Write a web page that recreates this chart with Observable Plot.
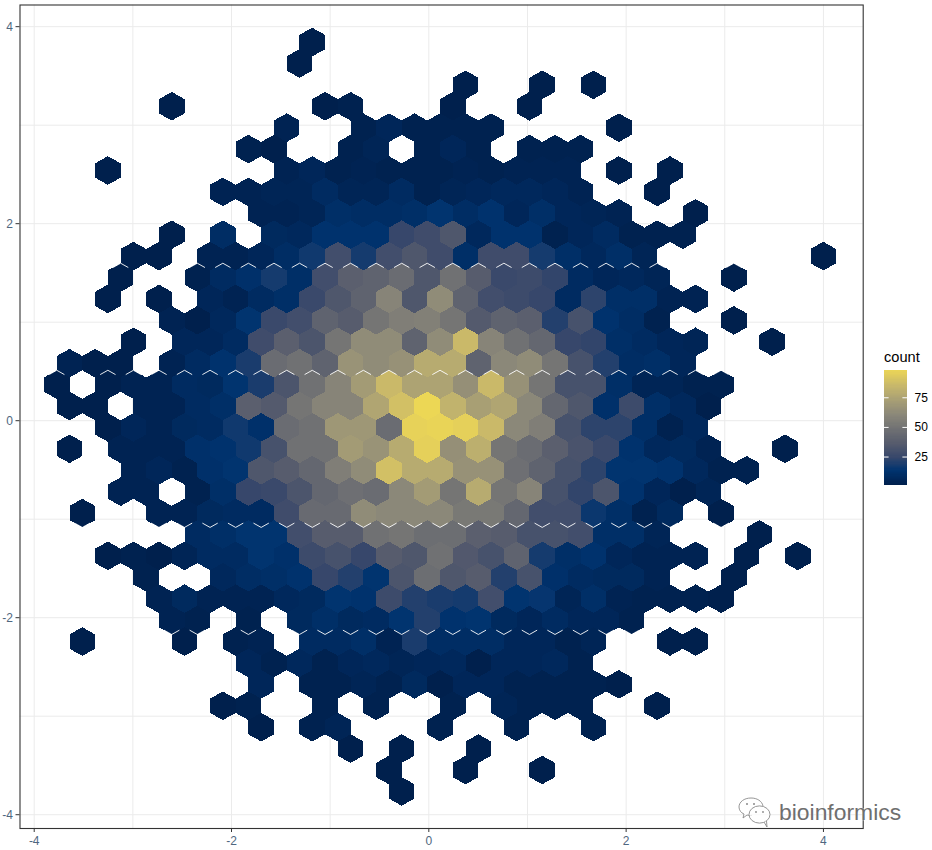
<!DOCTYPE html>
<html>
<head>
<meta charset="utf-8">
<script src="https://cdn.jsdelivr.net/npm/d3@7"></script>
<script src="https://cdn.jsdelivr.net/npm/@observablehq/plot@0.6"></script>
<style>
html,body{margin:0;padding:0;background:#fff;font-family:"Liberation Sans",Arial,sans-serif;}
#stage{position:relative;width:932px;height:850px;overflow:hidden;}
#stage svg{display:block;background:transparent;}
#legend{position:absolute;left:884px;top:370px;}
#legendTitle{position:absolute;left:884px;top:349px;font-size:14.6px;line-height:17px;color:#000;}
#mark{position:absolute;left:737px;top:795px;width:170px;height:36px;}
</style>
</head>
<body>
<div id="stage">
  <div id="chart"></div>
  <div id="legendTitle">count</div>
  <div id="legend"></div>
  <svg id="mark" viewBox="0 0 170 36" width="170" height="36">
    <g fill="rgba(255,255,255,.75)" stroke="#8a8a8a" stroke-width="0.9">
      <path d="M14 3c-7 0-12 4-12 9 0 3 2 6 5 7l-1 4 4-3c2 .5 3 .5 5 .3"/>
      <path d="M14 3c6 0 11 3 12 8"/>
      <ellipse cx="22.5" cy="19.5" rx="10.5" ry="8.6"/>
      <path d="M27 27l3 5-.5-6"/>
    </g>
    <g fill="#8a8a8a"><circle cx="10" cy="9" r="1"/><circle cx="17" cy="9" r="1"/><circle cx="19" cy="17" r=".9"/><circle cx="26" cy="17" r=".9"/></g>
    <text x="42" y="24.5" font-size="22.9" fill="#6f6f6f" stroke="rgba(255,255,255,.85)" stroke-width="0.6" paint-order="stroke" font-family="Liberation Sans">bioinformics</text>
  </svg>
</div>
<script>
// Axis ticks
const xMajor = [-4, -2, 0, 2, 4];
const xMinor = [-3, -1, 1, 3];
const yMajor = [-4, -2, 0, 2, 4];
const yMinor = [-3, -1, 1, 3];
const legendTicks = [25, 50, 75];

// Hexagon grid of the binning
const hexDx = 0.259;
const hexDy = 0.21736;
const hexOriginX = -0.016;
const hexTopY = 3.844;

// Rows whose upper / lower hexagon edges show as thin white seams in the picture
const seamAbove = [11, 16];
const seamBelow = [22, 27];

// Palette
const cividisStops = ["#00204D","#00336F","#39486B","#575C6D","#707173","#8A8779","#A69D75","#C4B56C","#E4CF5B","#FFEA46"];

// First occupied column of each row, then the count read for each column (0 = empty bin)
const rowStart = [-5,-5,1,-10,-6,-7,-13,-8,-7,-10,-12,-12,-13,-10,-12,-14,-15,-14,-13,-14,-12,-12,-14,-9,-13,-11,-11,-10,-14,-7,-7,-8,-7,-3,-2,-1];
const rowCounts = [
[1],
[1],
[1,0,0,1,0,1],
[1,0,0,0,0,0,1,2,0,0,0,1,0,0,1],
[3,0,0,2,5,2,2,2,2,0,0,0,0,1],
[2,1,0,0,2,4,0,2,5,2,0,2,2,2],
[1,0,0,0,0,0,0,3,5,2,3,2,2,2,3,2,3,3,3,0,1,0,1],
[3,3,4,4,8,4,4,8,2,4,5,6,6,5,3,0,0,1],
[3,3,4,10,9,9,10,13,9,12,5,10,5,4,3,0,0,1],
[1,0,9,0,7,6,12,12,12,24,27,33,6,12,12,2,5,8,2,2,2],
[1,1,0,3,3,5,9,16,28,17,28,33,27,10,27,27,17,10,6,10,4,0,0,0,0,0,0,1],
[1,0,0,2,8,11,17,10,28,38,40,45,33,48,36,25,26,23,8,5,6,4,0,0,1],
[1,0,1,0,5,3,8,10,25,33,40,58,33,62,40,28,26,24,8,22,10,10,3,3],
[3,1,6,13,25,28,40,36,50,55,56,50,35,40,38,20,30,12,9,2,0,0,1],
[1,0,5,5,8,27,38,32,50,62,62,40,62,85,58,48,42,24,23,10,8,5,4,0,0,1],
[3,1,1,0,3,8,12,18,45,48,40,66,62,65,78,78,40,60,62,50,30,20,9,10,5],
[1,0,1,3,3,8,7,13,18,32,48,58,70,85,74,74,64,85,65,50,30,30,10,4,4,2,2],
[1,1,0,3,3,8,10,38,35,50,58,58,75,88,98,82,72,75,60,42,33,11,26,10,6,1],
[1,5,3,7,8,16,11,45,48,68,68,45,96,97,95,85,60,55,30,22,22,10,2,6],
[1,0,3,3,3,11,12,16,30,48,48,70,66,78,95,64,80,50,45,38,31,25,12,6,7,3,0,0,1],
[3,5,2,11,13,33,36,42,55,62,88,78,78,65,65,47,40,30,22,13,13,12,6,2,2],
[3,3,0,2,10,24,25,32,42,47,45,60,70,50,78,50,58,30,23,32,12,5,1,4],
[1,0,0,3,3,7,8,8,27,44,44,62,60,60,60,52,52,42,28,28,15,10,2,7,0,1],
[8,10,13,13,28,36,36,48,50,46,46,38,36,30,30,28,10,10,4,0,0,0,1],
[1,2,1,4,8,8,13,11,26,30,24,36,33,48,34,30,40,17,10,12,5,3,3,3,0,1,0,1],
[2,0,0,6,9,10,12,24,20,13,32,46,33,36,20,30,11,8,7,7,3,0,0,1],
[3,7,3,3,3,6,7,13,12,26,20,18,17,28,13,14,4,10,3,2,2,2,1],
[3,2,0,2,0,7,10,7,8,13,20,12,13,7,5,8,5,5,2],
[1,0,0,0,1,0,2,3,0,8,8,10,3,18,9,9,9,5,5,2,4,0,0,1,1],
[5,2,6,2,5,6,4,5,6,1,5,5,6,2],
[5,0,2,2,4,2,7,1,5,5,2,2,2,2,1],
[1,2,0,0,2,0,2,0,0,2,0,4,2,2,2,0,0,1],
[1,0,2,4,0,0,0,2,0,0,2,0,0,2],
[1,0,1,0,0,1],
[1,0,0,1,0,0,1],
[1]
];

// Table built from the rows above
const bins = rowCounts.flatMap((counts, k) =>
  counts.map((count, i) => ({
    row: k,
    x: hexOriginX + (rowStart[k] + i + (k % 2 === 0 ? 0.5 : 0)) * hexDx,
    y: hexTopY - k * hexDy,
    count
  })).filter(d => d.count > 0)
);

const flatness = 1.122;

// ggplot's hexagons are slightly flatter than regular ones
const flatHexagon = {
  draw(context, size) {
    const rx = Math.sqrt(size / Math.PI), ry = rx * flatness, hy = ry / 2;
    context.moveTo(0, ry);
    context.lineTo(rx, hy);
    context.lineTo(rx, -hy);
    context.lineTo(0, -ry);
    context.lineTo(-rx, -hy);
    context.lineTo(-rx, hy);
    context.closePath();
  }
};
const chevron = sign => ({
  draw(context, size) {
    const rx = Math.sqrt(size / Math.PI), ry = rx * flatness, f = 0.6;
    context.moveTo(-rx * f, sign * (ry - ry / 2 * f));
    context.lineTo(0, sign * ry);
    context.lineTo(rx * f, sign * (ry - ry / 2 * f));
  }
});

const colorScale = {
  type: "linear",
  domain: [1, 106.4],
  interpolate: d3.piecewise(d3.interpolateRgb, cividisStops)
};

const tickInk = "#4f6780";
const chart = Plot.plot({
  width: 932,
  height: 850,
  marginLeft: 19.5,
  marginRight: 69.3,
  marginTop: 4.5,
  marginBottom: 22,
  style: {fontFamily: "Liberation Sans", fontSize: "12px", background: "transparent"},
  x: {domain: [-4.144, 4.403]},
  y: {domain: [-4.14, 4.22]},
  color: colorScale,
  marks: [
    Plot.ruleX(xMinor, {stroke: "#ebebeb", strokeWidth: 1}),
    Plot.ruleY(yMinor, {stroke: "#ebebeb", strokeWidth: 1}),
    Plot.ruleX(xMajor, {stroke: "#ebebeb", strokeWidth: 1}),
    Plot.ruleY(yMajor, {stroke: "#ebebeb", strokeWidth: 1}),
    Plot.dot(bins, {x: "x", y: "y", fill: "count", r: 12.775, symbol: flatHexagon, shapeRendering: "crispEdges"}),
    Plot.dot(bins.filter(d => seamAbove.includes(d.row)), {x: "x", y: "y", fill: "none", stroke: "#fff", strokeWidth: 0.9, r: 12.775, symbol: chevron(-1)}),
    Plot.dot(bins.filter(d => seamBelow.includes(d.row)), {x: "x", y: "y", fill: "none", stroke: "#fff", strokeWidth: 0.9, r: 12.775, symbol: chevron(1)}),
    Plot.frame({stroke: "#333333", strokeWidth: 1.1}),
    Plot.axisX(xMajor, {label: null, tickSize: 4, tickPadding: 4, tickFormat: d => String(d), fill: tickInk, stroke: "#333333"}),
    Plot.axisY(yMajor, {label: null, tickSize: 4, tickPadding: 3, tickFormat: d => String(d), fill: tickInk, stroke: "#333333"})
  ]
});
document.getElementById("chart").append(chart);

// Colour bar
const legendSteps = d3.range(1, 98);
const legendPlot = Plot.plot({
  width: 48,
  height: 115,
  marginLeft: 0,
  marginRight: 25,
  marginTop: 0,
  marginBottom: 0,
  style: {fontFamily: "Liberation Sans", fontSize: "12px", background: "transparent", overflow: "visible"},
  x: {domain: [0, 1], axis: null},
  y: {domain: [1, 98], axis: null},
  color: colorScale,
  marks: [
    Plot.rect(legendSteps, {x1: () => 0, x2: () => 1, y1: d => d, y2: d => d + 1, fill: d => d, shapeRendering: "crispEdges"}),
    Plot.ruleY(legendTicks, {x1: () => 0, x2: () => 0.2, stroke: "#fff", strokeWidth: 1}),
    Plot.ruleY(legendTicks, {x1: () => 0.8, x2: () => 1, stroke: "#fff", strokeWidth: 1}),
    Plot.axisY(legendTicks, {anchor: "right", label: null, tickSize: 0, tickPadding: 7, fill: "#000"})
  ]
});
document.getElementById("legend").append(legendPlot);
</script>
</body>
</html>
